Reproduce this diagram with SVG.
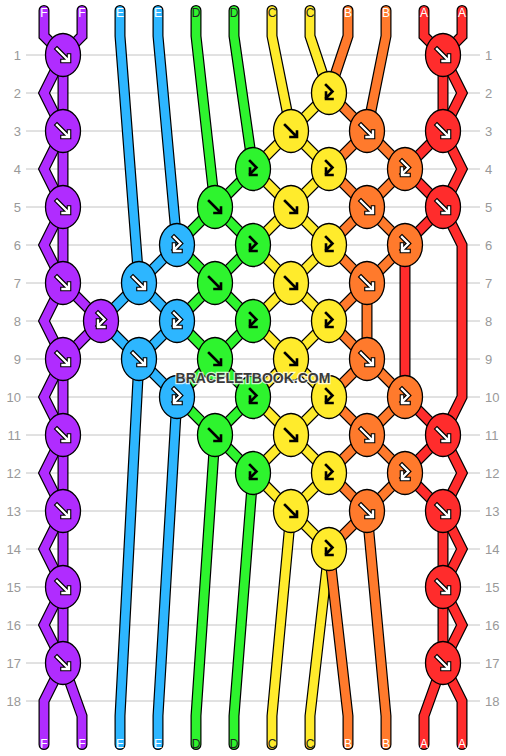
<svg xmlns="http://www.w3.org/2000/svg" xmlns:xlink="http://www.w3.org/1999/xlink" width="506" height="756" viewBox="0 0 506 756">
<style>
.grid{stroke:#c4c4c4;stroke-width:1}
.rl{font-family:"Liberation Sans",Arial,sans-serif;font-size:13px;fill:#999}
.so{fill:none;stroke:#000;stroke-width:11;stroke-linecap:round;stroke-linejoin:miter}
.sc{fill:none;stroke-width:8.6;stroke-linecap:round;stroke-linejoin:miter}
.lab{font-family:"Liberation Sans",Arial,sans-serif;font-size:12px;text-anchor:middle}
.k{stroke:#000;stroke-width:1.3}
.P{fill:#B02CFF}.B{fill:#2DB6FF}.G{fill:#2EF42E}.Y{fill:#FFEB2C}.O{fill:#FF7A2C}.R{fill:#FF2C2C}
.aw1{fill:none;stroke:#000;stroke-width:4.6;stroke-linecap:square}
.aw2{fill:none;stroke:#fff;stroke-width:2.4;stroke-linecap:square}
.ab{fill:none;stroke:#000;stroke-width:2.6;stroke-linecap:square}
.wm{font-family:"Liberation Sans",Arial,sans-serif;font-size:14px;font-weight:bold;text-anchor:middle;fill:#3a3a3a;stroke:#fff;stroke-opacity:0.75;stroke-width:2.5;paint-order:stroke}
</style>
<defs>
<path id="af" d="M-6,-6 L5,5 M-0.5,6 L6,6 L6,0.5"/>
<path id="ah" d="M-3,-8 L3.5,-1.5 L-3,5 M-3,-0.5 L-3,6 L3.5,6"/>
<g id="fw"><use xlink:href="#af" class="aw1"/><use xlink:href="#af" class="aw2"/></g>
<g id="fbw"><use xlink:href="#ah" class="aw1"/><use xlink:href="#ah" class="aw2"/></g>
<g id="fk"><use xlink:href="#af" class="ab"/></g>
<g id="fbk"><use xlink:href="#ah" class="ab"/></g>
<path id="tF1" d="M44,10.5 L44,36 L63,55 L44,93 L63,131 L44,169 L63,207 L44,245 L63,283 L44,321 L63,359 L44,397 L63,435 L44,473 L63,511 L44,549 L63,587 L44,625 L63,663 L44,701 L44,744.5"/>
<path id="tF2" d="M82,10.5 L82,36 L63,55 L63,283 L101,321 L63,359 L63,663 L82,716 L82,744.5"/>
<path id="tE1" d="M120,10.5 L120,36 L139,283 L101,321 L139,359 L120,716 L120,744.5"/>
<path id="tE2" d="M158,10.5 L158,36 L177,245 L139,283 L177,321 L139,359 L177,397 L158,716 L158,744.5"/>
<path id="tD1" d="M196,10.5 L196,36 L215,207 L177,245 L215,283 L177,321 L215,359 L177,397 L215,435 L196,716 L196,744.5"/>
<path id="tD2" d="M234,10.5 L234,36 L253,169 L215,207 L253,245 L215,283 L253,321 L215,359 L253,397 L215,435 L253,473 L234,716 L234,744.5"/>
<path id="tC1" d="M272,10.5 L272,36 L291,131 L253,169 L291,207 L253,245 L291,283 L253,321 L291,359 L253,397 L291,435 L253,473 L291,511 L272,716 L272,744.5"/>
<path id="tC2" d="M310,10.5 L310,36 L329,93 L291,131 L329,169 L291,207 L329,245 L291,283 L329,321 L291,359 L329,397 L291,435 L329,473 L291,511 L329,549 L310,716 L310,744.5"/>
<path id="tB1" d="M348,10.5 L348,36 L329,93 L367,131 L329,169 L367,207 L329,245 L367,283 L329,321 L367,359 L329,397 L367,435 L329,473 L367,511 L329,549 L348,716 L348,744.5"/>
<path id="tB2" d="M386,10.5 L386,36 L367,131 L405,169 L367,207 L405,245 L367,283 L367,359 L405,397 L367,435 L405,473 L367,511 L386,716 L386,744.5"/>
<path id="tA1" d="M424,10.5 L424,36 L443,55 L443,131 L405,169 L443,207 L405,245 L405,397 L443,435 L405,473 L443,511 L443,663 L424,716 L424,744.5"/>
<path id="tA2" d="M462,10.5 L462,36 L443,55 L462,93 L443,131 L462,169 L443,207 L462,245 L462,397 L443,435 L462,473 L443,511 L462,549 L443,587 L462,625 L443,663 L462,701 L462,744.5"/>
</defs>
<rect width="506" height="756" fill="#fff"/>
<g id="grid">
<line class="grid" x1="26" y1="55" x2="480" y2="55"/><line class="grid" x1="26" y1="93" x2="480" y2="93"/>
<line class="grid" x1="26" y1="131" x2="480" y2="131"/><line class="grid" x1="26" y1="169" x2="480" y2="169"/>
<line class="grid" x1="26" y1="207" x2="480" y2="207"/><line class="grid" x1="26" y1="245" x2="480" y2="245"/>
<line class="grid" x1="26" y1="283" x2="480" y2="283"/><line class="grid" x1="26" y1="321" x2="480" y2="321"/>
<line class="grid" x1="26" y1="359" x2="480" y2="359"/><line class="grid" x1="26" y1="397" x2="480" y2="397"/>
<line class="grid" x1="26" y1="435" x2="480" y2="435"/><line class="grid" x1="26" y1="473" x2="480" y2="473"/>
<line class="grid" x1="26" y1="511" x2="480" y2="511"/><line class="grid" x1="26" y1="549" x2="480" y2="549"/>
<line class="grid" x1="26" y1="587" x2="480" y2="587"/><line class="grid" x1="26" y1="625" x2="480" y2="625"/>
<line class="grid" x1="26" y1="663" x2="480" y2="663"/><line class="grid" x1="26" y1="701" x2="480" y2="701"/>
</g>
<g id="row-labels">
<g class="rl" text-anchor="end">
<text x="21" y="60">1</text><text x="21" y="98">2</text><text x="21" y="136">3</text><text x="21" y="174">4</text><text x="21" y="212">5</text><text x="21" y="250">6</text><text x="21" y="288">7</text><text x="21" y="326">8</text><text x="21" y="364">9</text><text x="21" y="402">10</text><text x="21" y="440">11</text><text x="21" y="478">12</text><text x="21" y="516">13</text><text x="21" y="554">14</text><text x="21" y="592">15</text><text x="21" y="630">16</text><text x="21" y="668">17</text><text x="21" y="706">18</text>
</g>
<g class="rl" text-anchor="start">
<text x="485" y="60">1</text><text x="485" y="98">2</text><text x="485" y="136">3</text><text x="485" y="174">4</text><text x="485" y="212">5</text><text x="485" y="250">6</text><text x="485" y="288">7</text><text x="485" y="326">8</text><text x="485" y="364">9</text><text x="485" y="402">10</text><text x="485" y="440">11</text><text x="485" y="478">12</text><text x="485" y="516">13</text><text x="485" y="554">14</text><text x="485" y="592">15</text><text x="485" y="630">16</text><text x="485" y="668">17</text><text x="485" y="706">18</text>
</g>
</g>
<g id="connectors">
<use xlink:href="#tF1" class="so"/><use xlink:href="#tF1" class="sc" stroke="#B02CFF"/>
<use xlink:href="#tF2" class="so"/><use xlink:href="#tF2" class="sc" stroke="#B02CFF"/>
<use xlink:href="#tE1" class="so"/><use xlink:href="#tE1" class="sc" stroke="#2DB6FF"/>
<use xlink:href="#tE2" class="so"/><use xlink:href="#tE2" class="sc" stroke="#2DB6FF"/>
<use xlink:href="#tD1" class="so"/><use xlink:href="#tD1" class="sc" stroke="#2EF42E"/>
<use xlink:href="#tD2" class="so"/><use xlink:href="#tD2" class="sc" stroke="#2EF42E"/>
<use xlink:href="#tC1" class="so"/><use xlink:href="#tC1" class="sc" stroke="#FFEB2C"/>
<use xlink:href="#tC2" class="so"/><use xlink:href="#tC2" class="sc" stroke="#FFEB2C"/>
<use xlink:href="#tB1" class="so"/><use xlink:href="#tB1" class="sc" stroke="#FF7A2C"/>
<use xlink:href="#tB2" class="so"/><use xlink:href="#tB2" class="sc" stroke="#FF7A2C"/>
<use xlink:href="#tA1" class="so"/><use xlink:href="#tA1" class="sc" stroke="#FF2C2C"/>
<use xlink:href="#tA2" class="so"/><use xlink:href="#tA2" class="sc" stroke="#FF2C2C"/>
</g>
<g id="string-labels" class="lab">
<text x="44" y="17" fill="#fff">F</text><text x="82" y="17" fill="#fff">F</text>
<text x="120" y="17" fill="#fff">E</text><text x="158" y="17" fill="#fff">E</text>
<text x="196" y="17" fill="#222">D</text><text x="234" y="17" fill="#222">D</text>
<text x="272" y="17" fill="#222">C</text><text x="310" y="17" fill="#222">C</text>
<text x="348" y="17" fill="#fff">B</text><text x="386" y="17" fill="#fff">B</text>
<text x="424" y="17" fill="#fff">A</text><text x="462" y="17" fill="#fff">A</text>
<text x="44" y="748" fill="#fff">F</text><text x="82" y="748" fill="#fff">F</text>
<text x="120" y="748" fill="#fff">E</text><text x="158" y="748" fill="#fff">E</text>
<text x="196" y="748" fill="#222">D</text><text x="234" y="748" fill="#222">D</text>
<text x="272" y="748" fill="#222">C</text><text x="310" y="748" fill="#222">C</text>
<text x="348" y="748" fill="#fff">B</text><text x="386" y="748" fill="#fff">B</text>
<text x="424" y="748" fill="#fff">A</text><text x="462" y="748" fill="#fff">A</text>
</g>
<g id="knots">
<g id="k1-1" transform="translate(63,55)"><ellipse class="k P" rx="17.5" ry="21.5"/><use xlink:href="#fw"/></g>
<g id="k1-11" transform="translate(443,55)"><ellipse class="k R" rx="17.5" ry="21.5"/><use xlink:href="#fw"/></g>
<g id="k2-8" transform="translate(329,93)"><ellipse class="k Y" rx="17.5" ry="21.5"/><use xlink:href="#fbk"/></g>
<g id="k3-1" transform="translate(63,131)"><ellipse class="k P" rx="17.5" ry="21.5"/><use xlink:href="#fw"/></g>
<g id="k3-7" transform="translate(291,131)"><ellipse class="k Y" rx="17.5" ry="21.5"/><use xlink:href="#fk"/></g>
<g id="k3-9" transform="translate(367,131)"><ellipse class="k O" rx="17.5" ry="21.5"/><use xlink:href="#fw"/></g>
<g id="k3-11" transform="translate(443,131)"><ellipse class="k R" rx="17.5" ry="21.5"/><use xlink:href="#fw"/></g>
<g id="k4-6" transform="translate(253,169)"><ellipse class="k G" rx="17.5" ry="21.5"/><use xlink:href="#fbk"/></g>
<g id="k4-8" transform="translate(329,169)"><ellipse class="k Y" rx="17.5" ry="21.5"/><use xlink:href="#fbk"/></g>
<g id="k4-10" transform="translate(405,169)"><ellipse class="k O" rx="17.5" ry="21.5"/><use xlink:href="#fbw"/></g>
<g id="k5-1" transform="translate(63,207)"><ellipse class="k P" rx="17.5" ry="21.5"/><use xlink:href="#fw"/></g>
<g id="k5-5" transform="translate(215,207)"><ellipse class="k G" rx="17.5" ry="21.5"/><use xlink:href="#fk"/></g>
<g id="k5-7" transform="translate(291,207)"><ellipse class="k Y" rx="17.5" ry="21.5"/><use xlink:href="#fk"/></g>
<g id="k5-9" transform="translate(367,207)"><ellipse class="k O" rx="17.5" ry="21.5"/><use xlink:href="#fw"/></g>
<g id="k5-11" transform="translate(443,207)"><ellipse class="k R" rx="17.5" ry="21.5"/><use xlink:href="#fw"/></g>
<g id="k6-4" transform="translate(177,245)"><ellipse class="k B" rx="17.5" ry="21.5"/><use xlink:href="#fbw"/></g>
<g id="k6-6" transform="translate(253,245)"><ellipse class="k G" rx="17.5" ry="21.5"/><use xlink:href="#fbk"/></g>
<g id="k6-8" transform="translate(329,245)"><ellipse class="k Y" rx="17.5" ry="21.5"/><use xlink:href="#fbk"/></g>
<g id="k6-10" transform="translate(405,245)"><ellipse class="k O" rx="17.5" ry="21.5"/><use xlink:href="#fbw"/></g>
<g id="k7-1" transform="translate(63,283)"><ellipse class="k P" rx="17.5" ry="21.5"/><use xlink:href="#fw"/></g>
<g id="k7-3" transform="translate(139,283)"><ellipse class="k B" rx="17.5" ry="21.5"/><use xlink:href="#fw"/></g>
<g id="k7-5" transform="translate(215,283)"><ellipse class="k G" rx="17.5" ry="21.5"/><use xlink:href="#fk"/></g>
<g id="k7-7" transform="translate(291,283)"><ellipse class="k Y" rx="17.5" ry="21.5"/><use xlink:href="#fk"/></g>
<g id="k7-9" transform="translate(367,283)"><ellipse class="k O" rx="17.5" ry="21.5"/><use xlink:href="#fw"/></g>
<g id="k8-2" transform="translate(101,321)"><ellipse class="k P" rx="17.5" ry="21.5"/><use xlink:href="#fbw"/></g>
<g id="k8-4" transform="translate(177,321)"><ellipse class="k B" rx="17.5" ry="21.5"/><use xlink:href="#fbw"/></g>
<g id="k8-6" transform="translate(253,321)"><ellipse class="k G" rx="17.5" ry="21.5"/><use xlink:href="#fbk"/></g>
<g id="k8-8" transform="translate(329,321)"><ellipse class="k Y" rx="17.5" ry="21.5"/><use xlink:href="#fbk"/></g>
<g id="k9-1" transform="translate(63,359)"><ellipse class="k P" rx="17.5" ry="21.5"/><use xlink:href="#fw"/></g>
<g id="k9-3" transform="translate(139,359)"><ellipse class="k B" rx="17.5" ry="21.5"/><use xlink:href="#fw"/></g>
<g id="k9-5" transform="translate(215,359)"><ellipse class="k G" rx="17.5" ry="21.5"/><use xlink:href="#fk"/></g>
<g id="k9-7" transform="translate(291,359)"><ellipse class="k Y" rx="17.5" ry="21.5"/><use xlink:href="#fk"/></g>
<g id="k9-9" transform="translate(367,359)"><ellipse class="k O" rx="17.5" ry="21.5"/><use xlink:href="#fw"/></g>
<g id="k10-4" transform="translate(177,397)"><ellipse class="k B" rx="17.5" ry="21.5"/><use xlink:href="#fbw"/></g>
<g id="k10-6" transform="translate(253,397)"><ellipse class="k G" rx="17.5" ry="21.5"/><use xlink:href="#fbk"/></g>
<g id="k10-8" transform="translate(329,397)"><ellipse class="k Y" rx="17.5" ry="21.5"/><use xlink:href="#fbk"/></g>
<g id="k10-10" transform="translate(405,397)"><ellipse class="k O" rx="17.5" ry="21.5"/><use xlink:href="#fbw"/></g>
<g id="k11-1" transform="translate(63,435)"><ellipse class="k P" rx="17.5" ry="21.5"/><use xlink:href="#fw"/></g>
<g id="k11-5" transform="translate(215,435)"><ellipse class="k G" rx="17.5" ry="21.5"/><use xlink:href="#fk"/></g>
<g id="k11-7" transform="translate(291,435)"><ellipse class="k Y" rx="17.5" ry="21.5"/><use xlink:href="#fk"/></g>
<g id="k11-9" transform="translate(367,435)"><ellipse class="k O" rx="17.5" ry="21.5"/><use xlink:href="#fw"/></g>
<g id="k11-11" transform="translate(443,435)"><ellipse class="k R" rx="17.5" ry="21.5"/><use xlink:href="#fw"/></g>
<g id="k12-6" transform="translate(253,473)"><ellipse class="k G" rx="17.5" ry="21.5"/><use xlink:href="#fbk"/></g>
<g id="k12-8" transform="translate(329,473)"><ellipse class="k Y" rx="17.5" ry="21.5"/><use xlink:href="#fbk"/></g>
<g id="k12-10" transform="translate(405,473)"><ellipse class="k O" rx="17.5" ry="21.5"/><use xlink:href="#fbw"/></g>
<g id="k13-1" transform="translate(63,511)"><ellipse class="k P" rx="17.5" ry="21.5"/><use xlink:href="#fw"/></g>
<g id="k13-7" transform="translate(291,511)"><ellipse class="k Y" rx="17.5" ry="21.5"/><use xlink:href="#fk"/></g>
<g id="k13-9" transform="translate(367,511)"><ellipse class="k O" rx="17.5" ry="21.5"/><use xlink:href="#fw"/></g>
<g id="k13-11" transform="translate(443,511)"><ellipse class="k R" rx="17.5" ry="21.5"/><use xlink:href="#fw"/></g>
<g id="k14-8" transform="translate(329,549)"><ellipse class="k Y" rx="17.5" ry="21.5"/><use xlink:href="#fbk"/></g>
<g id="k15-1" transform="translate(63,587)"><ellipse class="k P" rx="17.5" ry="21.5"/><use xlink:href="#fw"/></g>
<g id="k15-11" transform="translate(443,587)"><ellipse class="k R" rx="17.5" ry="21.5"/><use xlink:href="#fw"/></g>
<g id="k17-1" transform="translate(63,663)"><ellipse class="k P" rx="17.5" ry="21.5"/><use xlink:href="#fw"/></g>
<g id="k17-11" transform="translate(443,663)"><ellipse class="k R" rx="17.5" ry="21.5"/><use xlink:href="#fw"/></g>
</g>
<text class="wm" x="253" y="383">BRACELETBOOK.COM</text>
</svg>
